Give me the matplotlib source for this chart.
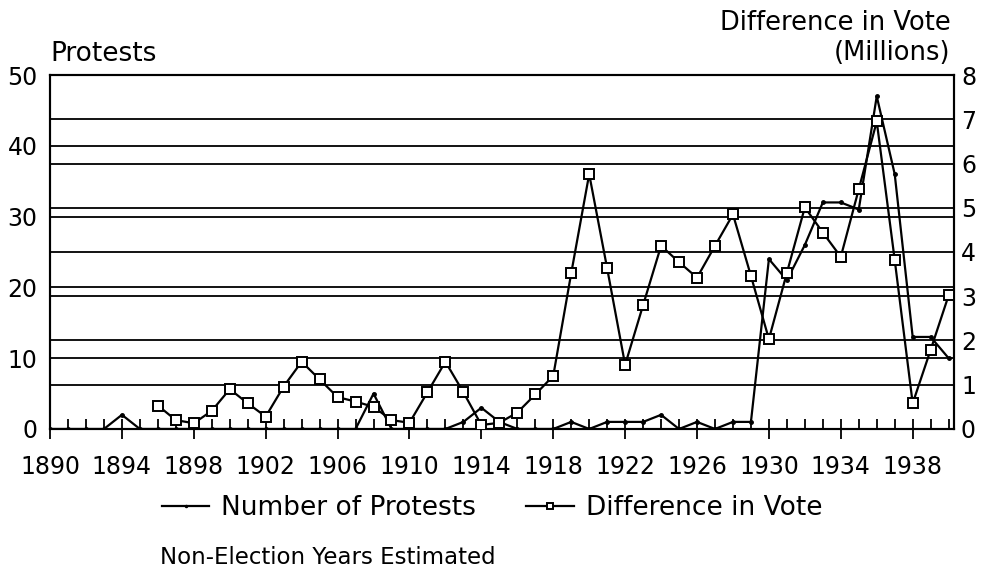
"""Protests vs. difference in vote, 1890-1940 (dual axis line chart)."""
import numpy as np
import matplotlib
matplotlib.use('Agg')
import matplotlib.pyplot as plt
from matplotlib.ticker import MultipleLocator

years = list(range(1890, 1941))

# number of protests per year (left axis)
protests = [0, 0, 0, 0, 2, 0, 0, 0, 0, 0,      # 1890-1899
            0, 0, 0, 0, 0, 0, 0, 0, 5, 0,      # 1900-1909
            0, 0, 0, 1, 3, 1, 0, 0, 0, 1,      # 1910-1919
            0, 1, 1, 1, 2, 0, 1, 0, 1, 1,      # 1920-1929
            24, 21, 26, 32, 32, 31, 47, 36, 13, 13,  # 1930-1939
            10]                                # 1940

# difference in vote, millions (right axis); no value before 1896
vote_years = list(range(1896, 1941))
vote_diff = [0.53, 0.2, 0.13, 0.41,                       # 1896-1899
             0.9, 0.58, 0.28, 0.96, 1.52, 1.12, 0.72, 0.62, 0.5, 0.2,   # 1900-1909
             0.14, 0.83, 1.52, 0.83, 0.09, 0.14, 0.37, 0.78, 1.2, 3.52,  # 1910-1919
             5.76, 3.63, 1.45, 2.8, 4.14, 3.77, 3.42, 4.14, 4.85, 3.46,  # 1920-1929
             2.03, 3.53, 5.01, 4.44, 3.89, 5.42, 6.95, 3.82, 0.58, 1.79,  # 1930-1939
             3.02]                                         # 1940

left_ticks = [0, 10, 20, 30, 40, 50]
right_ticks = [0, 1, 2, 3, 4, 5, 6, 7, 8]
xtick_years = list(range(1890, 1940, 4))

plt.rcParams['font.family'] = ['DejaVu Sans']

fig = plt.figure(figsize=(9.81, 5.70), dpi=100)
ax = fig.add_axes([0.051, 0.2474, 0.9215, 0.621])
ax2 = ax.twinx()

# horizontal rules for both scales
for v in left_ticks[1:-1]:
    ax.axhline(v, color='black', lw=1.3, zorder=1)
for v in right_ticks[1:-1]:
    ax2.axhline(v, color='black', lw=1.3, zorder=1)

l1, = ax.plot(years, protests, color='black', lw=1.6, marker='o', ms=2.5,
              zorder=3, label='Number of Protests')
l2, = ax2.plot(vote_years, vote_diff, color='black', lw=1.6, marker='s', ms=7,
               mfc='white', mec='black', mew=1.4, zorder=3, label='Difference in Vote')

ax.set_xlim(1890, 1940.3)
ax.set_ylim(0, 50)
ax2.set_ylim(0, 8)
ax.set_yticks(left_ticks)
ax2.set_yticks(right_ticks)
ax.set_xticks(xtick_years)
ax.xaxis.set_minor_locator(MultipleLocator(1))

ax.tick_params(axis='x', which='major', direction='inout', length=14, width=1.3,
               labelsize=17, pad=12)
ax.tick_params(axis='x', which='minor', direction='in', length=7, width=1.3)
ax.tick_params(axis='y', length=0, labelsize=17, pad=9)
ax2.tick_params(axis='y', length=0, labelsize=17, pad=5)

for a in (ax, ax2):
    for s in a.spines.values():
        s.set_linewidth(1.5)

fig.text(0.051, 0.893, 'Protests', fontsize=19, ha='left', va='baseline')
fig.text(0.969, 0.947, 'Difference in Vote', fontsize=18.5, ha='right', va='baseline')
fig.text(0.969, 0.895, '(Millions)', fontsize=18.5, ha='right', va='baseline')

fig.legend(handles=[l1, l2], loc='center left', bbox_to_anchor=(0.1543, 0.109),
           borderaxespad=0, ncol=2, frameon=False, fontsize=19, handlelength=1.8,
           handletextpad=0.45, columnspacing=1.9, markerscale=0.6)
fig.text(0.163, 0.022, 'Non-Election Years Estimated', fontsize=16.5, ha='left', va='center')

plt.savefig('out.png', dpi=100)
